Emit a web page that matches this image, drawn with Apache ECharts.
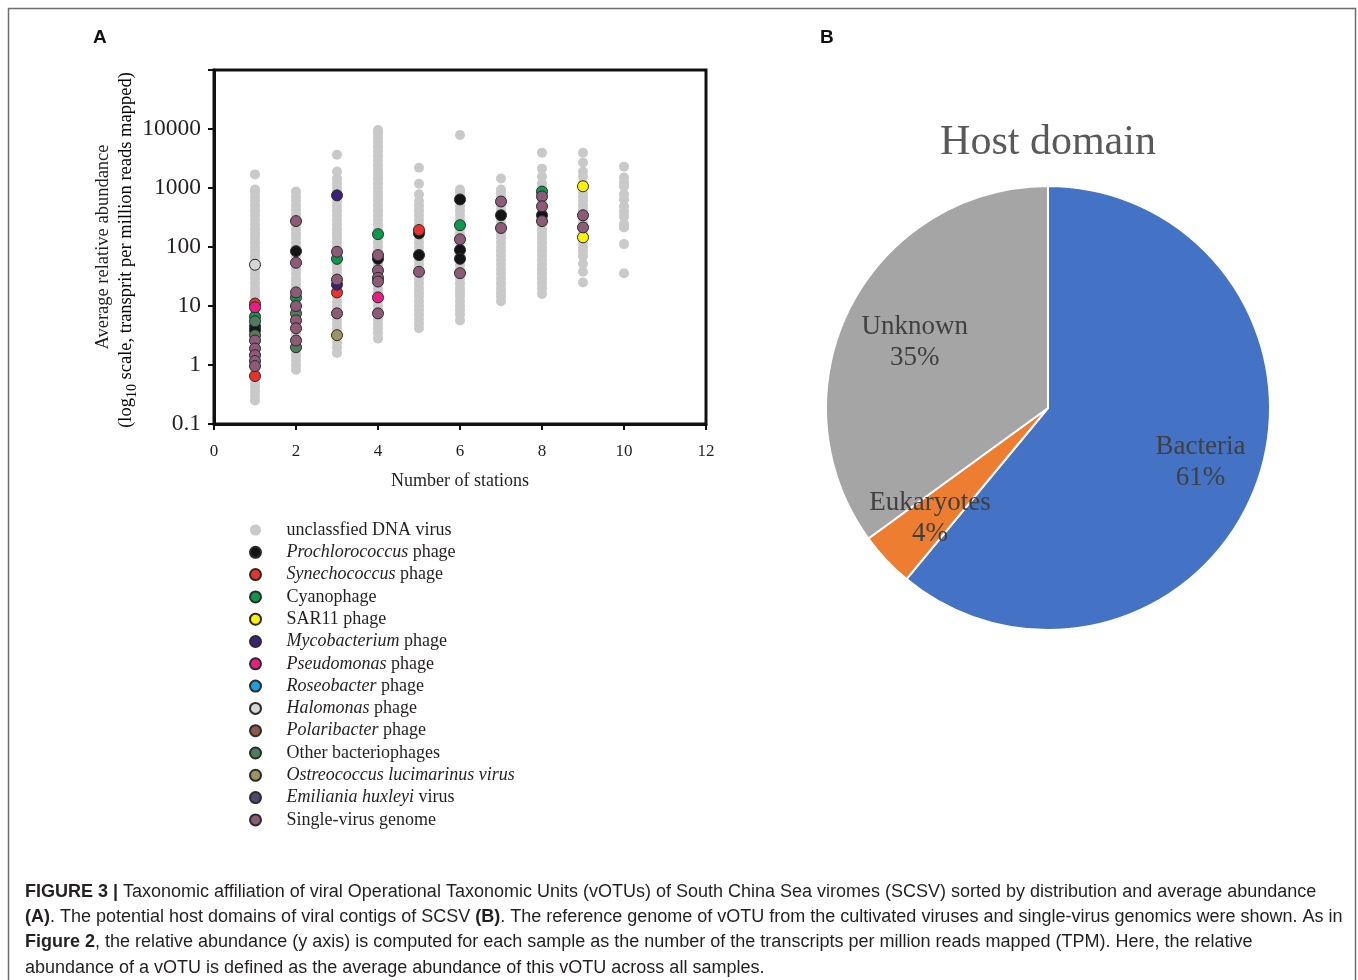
<!DOCTYPE html>
<html>
<head>
<meta charset="utf-8">
<title>Figure 3</title>
<script src="https://cdn.jsdelivr.net/npm/echarts@6/dist/echarts.min.js"></script>
<style>
  html, body { margin: 0; padding: 0; background: #fff; }
  #chart { width: 1358px; height: 980px; }
</style>
</head>
<body>
<div id="chart"></div>
<script>
// ---- Panel A: vOTU abundance (TPM) by number of stations ----
// unclassified DNA viruses, one list per number of stations
const unclassifiedSt1 = [0.25, 0.3, 0.36, 0.43, 0.5, 0.6, 0.72, 0.85, 1, 1.2, 1.45, 1.7, 2, 2.4, 2.9, 3.5, 4.2, 5, 6, 7.2, 8.5, 10, 12, 14.5, 17, 20, 24, 29, 35, 42, 50, 60, 72, 85, 100, 120, 145, 170, 200, 240, 290, 350, 420, 500, 600, 720, 850, 940, 1700];
const unclassifiedSt2 = [0.83, 1, 1.2, 1.45, 1.7, 2, 2.4, 2.9, 3.5, 4.2, 5, 6, 7.2, 8.5, 10, 12, 14.5, 17, 20, 24, 29, 35, 42, 50, 60, 72, 85, 100, 120, 145, 170, 200, 240, 290, 350, 420, 500, 600, 720, 870];
const unclassifiedSt3 = [1.6, 2, 2.4, 2.9, 3.5, 4.2, 5, 6, 7.2, 8.5, 10, 12, 14.5, 17, 20, 24, 29, 35, 42, 50, 60, 72, 85, 100, 120, 145, 170, 200, 240, 290, 350, 420, 500, 600, 720, 850, 1000, 1200, 1450, 1900, 3650];
const unclassifiedSt4 = [2.8, 3.5, 4.2, 5, 6, 7.2, 8.5, 10, 12, 14.5, 17, 20, 24, 29, 35, 42, 50, 60, 72, 85, 100, 120, 145, 170, 200, 240, 290, 350, 420, 500, 600, 720, 850, 1000, 1200, 1450, 1700, 2000, 2400, 2900, 3500, 4200, 5000, 6000, 7200, 8500, 9600];
const unclassifiedSt5 = [4.2, 5, 6, 7.2, 8.5, 10, 12, 14.5, 17, 20, 24, 29, 35, 42, 50, 60, 72, 85, 100, 120, 145, 170, 200, 240, 290, 350, 420, 500, 600, 780, 1180, 2200];
const unclassifiedSt6 = [5.7, 7.2, 8.5, 10, 12, 14.5, 17, 20, 24, 29, 35, 42, 50, 60, 72, 85, 100, 120, 145, 170, 200, 240, 290, 350, 420, 500, 600, 720, 850, 940, 7900];
const unclassifiedSt7 = [12, 14.5, 17, 20, 24, 29, 35, 42, 50, 60, 72, 85, 100, 120, 145, 170, 200, 240, 290, 350, 420, 500, 600, 720, 850, 940, 1450];
const unclassifiedSt8 = [16, 20, 24, 29, 35, 42, 50, 60, 72, 85, 100, 120, 145, 170, 200, 240, 290, 350, 420, 500, 600, 720, 850, 1000, 1200, 1560, 2130, 3950];
const unclassifiedSt9 = [25, 38, 52, 70, 85, 100, 120, 145, 170, 200, 240, 290, 350, 420, 500, 600, 720, 850, 1000, 1200, 1560, 1900, 2700, 3950];
const unclassifiedSt10 = [36, 112, 215, 245, 330, 400, 490, 640, 780, 1060, 1250, 1500, 2300];

// assigned vOTUs: [number of stations, average abundance]
const prochlorococcusPhage = [[1, 4.5], [1, 3.9], [2, 85], [4, 63], [5, 170], [5, 73], [6, 640], [6, 89], [6, 63], [7, 345], [8, 345]];
const synechococcusPhage = [[1, 11], [1, 0.65], [3, 17], [5, 194]];
const cyanophage = [[1, 6.6], [2, 14], [3, 63], [4, 165], [6, 234], [8, 870]];
const sar11Phage = [[9, 1070], [9, 146]];
const mycobacteriumPhage = [[3, 750], [3, 23]];
const pseudomonasPhage = [[1, 9.5], [4, 14]];
const roseobacterPhage = [];
const halomonasPhage = [[1, 50]];
const polaribacterPhage = [];
const otherBacteriophages = [[1, 5.5], [1, 3.2], [2, 7.5], [2, 2.0]];
const ostreococcusVirus = [[3, 3.2]];
const emilianiaVirus = [];
const singleVirusGenome = [[1, 2.6], [1, 1.9], [1, 1.47], [1, 1.17], [1, 0.96],
  [2, 275], [2, 54], [2, 17], [2, 10], [2, 5.7], [2, 4.2], [2, 2.6],
  [3, 83], [3, 28], [3, 7.5],
  [4, 73], [4, 40], [4, 30], [4, 26], [4, 7.5],
  [5, 38], [6, 135], [6, 36], [7, 590], [7, 210],
  [8, 720], [8, 490], [8, 275], [9, 345], [9, 215]];

const yTickValues = [0.1, 1, 10, 100, 1000, 10000];

// ---- Panel B: host domain shares (%) ----
const hostDomains = ['Bacteria', 'Eukaryotes', 'Unknown'];
const hostShares = [61, 4, 35];
const hostColors = ['#4472C4', '#ED7D31', '#A5A5A5'];

const SERIF = '"Liberation Serif", "Times New Roman", serif';
const SANS = '"Liberation Sans", Arial, sans-serif';

const unclassifiedLists = [unclassifiedSt1, unclassifiedSt2, unclassifiedSt3, unclassifiedSt4, unclassifiedSt5,
  unclassifiedSt6, unclassifiedSt7, unclassifiedSt8, unclassifiedSt9, unclassifiedSt10];
const unclassifiedPoints = [];
unclassifiedLists.forEach((list, i) => list.forEach(v => unclassifiedPoints.push([i + 1, v])));

const groups = [
  { name: 'unclassfied DNA virus', data: unclassifiedPoints, color: '#C9C9C9', border: null, size: 10 },
  { name: 'Prochlorococcus phage', data: prochlorococcusPhage, color: '#141414', italic: 'Prochlorococcus' },
  { name: 'Synechococcus phage', data: synechococcusPhage, color: '#E8322B', italic: 'Synechococcus' },
  { name: 'Cyanophage', data: cyanophage, color: '#0B9A4B' },
  { name: 'SAR11 phage', data: sar11Phage, color: '#FFF200' },
  { name: 'Mycobacterium phage', data: mycobacteriumPhage, color: '#3B2179', italic: 'Mycobacterium' },
  { name: 'Pseudomonas phage', data: pseudomonasPhage, color: '#E91E80', italic: 'Pseudomonas' },
  { name: 'Roseobacter phage', data: roseobacterPhage, color: '#1BA1DF', italic: 'Roseobacter' },
  { name: 'Halomonas phage', data: halomonasPhage, color: '#D6D6D6', italic: 'Halomonas' },
  { name: 'Polaribacter phage', data: polaribacterPhage, color: '#8C5848', italic: 'Polaribacter' },
  { name: 'Other bacteriophages', data: otherBacteriophages, color: '#4F7C5C' },
  { name: 'Ostreococcus lucimarinus virus', data: ostreococcusVirus, color: '#9C9560', italic: 'Ostreococcus lucimarinus virus' },
  { name: 'Emiliania huxleyi virus', data: emilianiaVirus, color: '#4E4A6E', italic: 'Emiliania huxleyi' },
  { name: 'Single-virus genome', data: singleVirusGenome, color: '#8D5B76' }
];

const italicOf = {};
groups.forEach(g => { if (g.italic) italicOf[g.name] = g.italic; });

const scatterSeries = groups.map(g => ({
  type: 'scatter',
  name: g.name,
  data: g.data,
  symbol: 'circle',
  symbolSize: g.size || 11,
  itemStyle: {
    color: g.color,
    borderColor: g.border === null ? 'transparent' : '#2b2b2b',
    borderWidth: g.border === null ? 0 : 1,
    opacity: 1
  },
  emphasis: { disabled: true },
  silent: true,
  animation: false
}));

// nudges for the slice labels, by slice index
const sliceLabelNudge = { 2: { dx: 11, dy: 8 } };

const chart = echarts.init(document.getElementById('chart'), null, { renderer: 'canvas' });

const option = {
  backgroundColor: '#ffffff',
  animation: false,
  grid: {
    left: 214, top: 70, width: 492, height: 354,
    show: true, borderColor: '#111', borderWidth: 3, backgroundColor: 'transparent'
  },
  xAxis: {
    type: 'value', min: 0, max: 12, interval: 2,
    name: 'Number of stations', nameLocation: 'middle', nameGap: 48,
    nameTextStyle: { fontFamily: SERIF, fontSize: 18, color: '#231F20' },
    axisLine: { show: true, lineStyle: { color: '#111', width: 3 } },
    axisTick: { show: true, inside: false, length: 6, lineStyle: { color: '#111', width: 2 } },
    axisLabel: { fontFamily: SERIF, fontSize: 17, color: '#231F20', margin: 19 },
    splitLine: { show: false }
  },
  yAxis: {
    type: 'log', logBase: 10, min: 0.1, max: 100000,
    axisLine: { show: true, lineStyle: { color: '#111', width: 3 } },
    axisTick: { show: true, inside: false, length: 6, lineStyle: { color: '#111', width: 2 } },
    axisLabel: {
      fontFamily: SERIF, fontSize: 23.5, color: '#231F20', margin: 13,
      formatter: v => {
        const hit = yTickValues.find(t => Math.abs(Math.log10(t) - Math.log10(v)) < 1e-6);
        return hit === undefined ? '' : String(hit);
      }
    },
    splitLine: { show: false }
  },
  legend: {
    orient: 'vertical', left: 244, top: 515,
    icon: 'circle', itemWidth: 52, itemHeight: 11, itemGap: 2.3,
    selectedMode: false,
    data: groups.map(g => g.name),
    formatter: name => {
      const it = italicOf[name];
      return it ? name.replace(it, '{i|' + it + '}') : name;
    },
    textStyle: {
      fontFamily: SERIF, fontSize: 18, color: '#231F20', lineHeight: 20,
      rich: { i: { fontFamily: SERIF, fontSize: 18, fontStyle: 'italic', color: '#231F20', lineHeight: 20 } }
    }
  },
  series: scatterSeries.concat([
    {
      type: 'pie', name: 'Host domain',
      center: [1048, 408], radius: 222,
      startAngle: 90, clockwise: true,
      silent: true, animation: false,
      data: hostDomains.map((n, i) => ({ name: n, value: hostShares[i], itemStyle: { color: hostColors[i] } })),
      itemStyle: { borderColor: '#ffffff', borderWidth: 2 },
      label: { show: false }, labelLine: { show: false }
    },
    {
      // label layer: a transparent disc carrying the slice labels
      type: 'pie', name: 'Host domain labels',
      center: [1048, 408], radius: [0, 318],
      startAngle: 90, clockwise: true,
      silent: true, animation: false,
      data: hostDomains.map((n, i) => ({ name: n, value: hostShares[i] })),
      itemStyle: { color: 'rgba(0,0,0,0)', borderWidth: 0 },
      label: {
        show: true, position: 'inside',
        formatter: p => p.name + '\n' + p.value + '%',
        fontFamily: SERIF, fontSize: 27, lineHeight: 31, color: '#404040'
      },
      labelLayout: p => sliceLabelNudge[p.dataIndex] || {},
      labelLine: { show: false }
    }
  ]),
  graphic: [
    {
      type: 'rect', silent: true, z: 0,
      shape: { x: 8.5, y: 8.5, width: 1347, height: 1000 },
      style: { fill: 'none', stroke: '#6e6e6e', lineWidth: 1.5 }
    },
    {
      type: 'text', left: 93, top: 28, silent: true,
      style: { text: 'A', font: 'bold 19px ' + SANS, fill: '#111' }
    },
    {
      type: 'text', left: 820, top: 28, silent: true,
      style: { text: 'B', font: 'bold 19px ' + SANS, fill: '#111' }
    },
    {
      type: 'text', x: 103, y: 247, rotation: Math.PI / 2, silent: true,
      style: {
        text: 'Average relative abundance', font: '18.5px ' + SERIF, fill: '#231F20',
        align: 'center', verticalAlign: 'middle'
      }
    },
    {
      type: 'text', x: 126, y: 250, rotation: Math.PI / 2, silent: true,
      style: {
        text: '{a|(log}{s|10}{a| scale, transprit per million reads mapped)}',
        align: 'center', verticalAlign: 'middle',
        rich: {
          a: { fontFamily: SERIF, fontSize: 18.5, color: '#231F20', lineHeight: 27, verticalAlign: 'middle' },
          s: { fontFamily: SERIF, fontSize: 14, color: '#231F20', lineHeight: 27, verticalAlign: 'bottom' }
        }
      }
    },
    {
      type: 'text', x: 1048, y: 143, silent: true,
      style: {
        text: 'Host domain', font: '42px ' + SERIF, fill: '#595959',
        align: 'center', verticalAlign: 'middle'
      }
    },
    {
      type: 'text', x: 25, y: 879, silent: true,
      style: {
        text: [
          '{b|FIGURE 3 |} Taxonomic affiliation of viral Operational Taxonomic Units (vOTUs) of South China Sea viromes (SCSV) sorted by distribution and average abundance',
          '{b|(A)}. The potential host domains of viral contigs of SCSV {b|(B)}. The reference genome of vOTU from the cultivated viruses and single-virus genomics were shown. As in',
          '{b|Figure 2}, the relative abundance (y axis) is computed for each sample as the number of the transcripts per million reads mapped (TPM). Here, the relative',
          'abundance of a vOTU is defined as the average abundance of this vOTU across all samples.'
        ].join('\n'),
        font: '18px ' + SANS, fill: '#231F20', lineHeight: 25.3,
        align: 'left', verticalAlign: 'top',
        rich: {
          b: { fontFamily: SANS, fontSize: 18, fontWeight: 'bold', fill: '#231F20', lineHeight: 25.3 }
        }
      }
    }
  ]
};

chart.setOption(option);
</script>
</body>
</html>
